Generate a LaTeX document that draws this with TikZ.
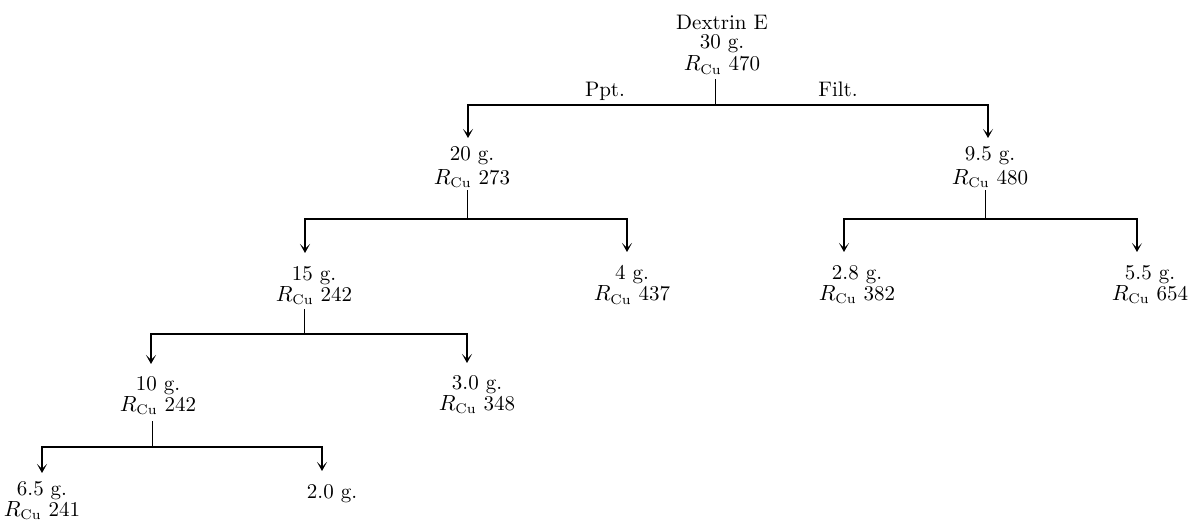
\documentclass[tikz,border=0pt]{standalone}
\usetikzlibrary{arrows.meta}
\begin{document}
\begin{tikzpicture}[x=0.5pt,y=-0.5pt,
  lbl/.style={inner sep=0pt, align=center, anchor=north, font=\fontsize{10.5}{9.25}\selectfont},
  tag/.style={inner sep=0pt, anchor=base, font=\fontsize{10.5}{9.25}\selectfont},
  stem/.style={line width=0.5pt},
  arr/.style={line width=0.7pt, -{Stealth[length=4.5pt,width=5pt,inset=2.5pt]}},
  arr1/.style={arr, shorten >=4pt},
  arr2/.style={arr, shorten >=6.5pt},
  arr3/.style={arr, shorten >=6pt}]
\useasboundingbox (0,0) rectangle (1193,523);
\newcommand{\rcu}[1]{$R_{\mathrm{Cu}}$ #1}

% nodes
\node[lbl] (dex) at (722,15) {Dextrin E\\[0.3pt]30 g.\\[0.3pt]\rcu{470}};
\node[lbl] (n20) at (472,146) {20 g.\\[1.5pt]\rcu{273}};
\node[lbl] (n95) at (990,146) {9.5 g.\\[1.5pt]\rcu{480}};
\node[lbl] (n15) at (314,266) {15 g.\\\rcu{242}};
\node[lbl] (n4)  at (632,265) {4 g.\\\rcu{437}};
\node[lbl] (n28) at (857,265) {2.8 g.\\\rcu{382}};
\node[lbl] (n55) at (1150,265) {5.5 g.\\\rcu{654}};
\node[lbl] (n10) at (158,376) {10 g.\\\rcu{242}};
\node[lbl] (n30) at (477,375) {3.0 g.\\\rcu{348}};
\node[lbl] (n65) at (42,481) {6.5 g.\\\rcu{241}};
\node[lbl] (n20b) at (332,484) {2.0 g.};

\node[tag] (ppt) at (605,97) {Ppt.};
\node[tag] (filt) at (838,97) {Filt.};

% branch points
\coordinate (b0) at (715,105);
\coordinate (b1) at (467,219);
\coordinate (b2) at (985,219);
\coordinate (b3) at (304,334);
\coordinate (b4) at (152,447);

% connectors
\draw[stem, shorten <=2.5pt] (b0 |- dex.south) -- (b0);
\draw[arr1] (b0) -| ([xshift=-2pt]n20.north);
\draw[arr1] (b0) -| ([xshift=-1pt]n95.north);

\draw[stem, shorten <=1pt] (b1 |- n20.south) -- (b1);
\draw[arr2] (b1) -| ([xshift=-4.5pt]n15.north);
\draw[arr2] (b1) -| ([xshift=-2.5pt]n4.north);

\draw[stem, shorten <=1pt] (b2 |- n95.south) -- (b2);
\draw[arr2] (b2) -| ([xshift=-6.5pt]n28.north);
\draw[arr2] (b2) -| ([xshift=-6.5pt]n55.north);

\draw[stem, shorten <=2pt] (b3 |- n15.south) -- (b3);
\draw[arr3] (b3) -| ([xshift=-3.5pt]n10.north);
\draw[arr3] (b3) -| ([xshift=-5pt]n30.north);

\draw[stem, shorten <=3pt] (b4 |- n10.south) -- (b4);
\draw[arr1] (b4) -| (n65.north);
\draw[arr2] (b4) -| ([xshift=-5pt]n20b.north);
\end{tikzpicture}
\end{document}
